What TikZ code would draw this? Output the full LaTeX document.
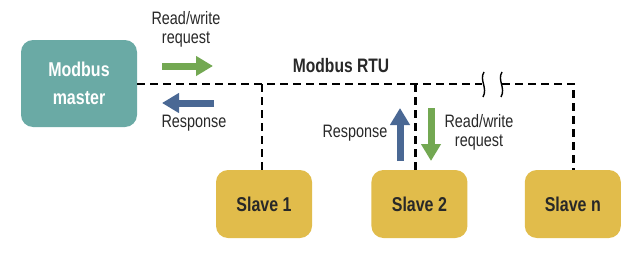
\documentclass[tikz,border=0pt]{standalone}
\usepackage{fontspec}
\setmainfont{Liberation Sans}[FakeStretch=0.8]
\usetikzlibrary{positioning, arrows.meta}
\definecolor{tealm}{RGB}{106,170,165}
\definecolor{gialloS}{RGB}{225,188,75}
\definecolor{verdeF}{RGB}{115,168,82}
\definecolor{bluF}{RGB}{74,104,148}
\definecolor{testoS}{RGB}{40,40,40}
\tikzset{
  master/.style    = {rectangle, rounded corners=12pt, fill=tealm, text=white, minimum width=116pt, minimum height=87pt, align=center, font=\fontsize{20}{28}\bfseries\selectfont},
  slave/.style     = {rectangle, rounded corners=12pt, fill=gialloS, text=testoS, minimum width=96pt, minimum height=68pt, font=\fontsize{20}{24}\bfseries\selectfont},
  bus/.style       = {line width=2.8pt, dash pattern=on 8pt off 5pt},
  rottura/.style   = {line width=1.4pt},
  etichetta/.style = {align=center, text=testoS, inner sep=0pt, font=\fontsize{18}{19}\selectfont},
  freccia/.style   = {line width=7pt, -{Triangle[length=17pt, width=19pt]}}
}
\begin{document}
\begin{tikzpicture}[x=1pt, y=-1pt, node distance=58pt]
  \useasboundingbox (0,0) rectangle (639,257);

  \node[master] (mst) at (79,83.5) {Modbus\\master};

  % slaves (basso)
  \node[slave] (s1) at (264,204) {Slave 1};
  \node[slave, right=59pt of s1] (s2) {Slave 2};
  \node[slave, right=57pt of s2] (sn) {Slave n};

  % bus con interruzione
  \coordinate (rA) at (482,84);
  \coordinate (rB) at (502,84);
  \draw[bus] (mst.east |- rA) -- (rA);
  \draw[bus] (rB) -| ([xshift=1pt]sn.north);
  \draw[bus] ([xshift=-2pt]s1.north) -- ([xshift=-2pt]s1.north |- rA);
  \draw[bus] ([xshift=-4pt]s2.north) -- ([xshift=-4pt]s2.north |- rA);
  \draw[rottura] (484,72) .. controls (479,80) and (488,88) .. (483,97);
  \draw[rottura] (502,72) .. controls (497,80) and (506,88) .. (501,97);

  \node[etichetta, font=\fontsize{19.5}{20}\bfseries\selectfont] (rtu) at (341,66) {Modbus RTU};

  % richiesta / risposta lato master
  \node[etichetta] (req1) at (186,29) {Read/write\\request};
  \node[etichetta] (rsp1) at (194,123) {Response};
  \coordinate (g1a) at (162,66);
  \coordinate (g1b) at (213,66);
  \coordinate (b1a) at (214,103);
  \coordinate (b1b) at (162,103);
  \draw[freccia, verdeF] (g1a) -- (g1b);
  \draw[freccia, bluF] (b1a) -- (b1b);

  % richiesta / risposta lato slave 2
  \coordinate (b2a) at (400,161);
  \coordinate (b2b) at (400,108);
  \coordinate (g2a) at (431,108);
  \coordinate (g2b) at (431,161);
  \draw[freccia, bluF] (b2a) -- (b2b);
  \draw[freccia, verdeF] (g2a) -- (g2b);
  \node[etichetta] (rsp2) at (355,133) {Response};
  \node[etichetta] (req2) at (479,132) {Read/write\\request};

\end{tikzpicture}
\end{document}
